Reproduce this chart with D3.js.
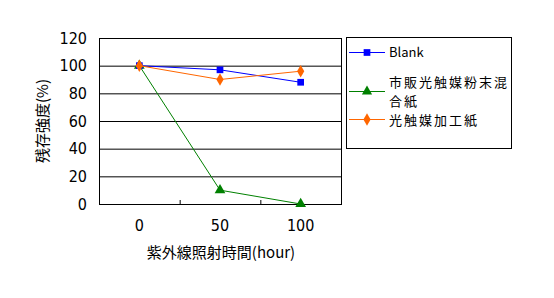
<!DOCTYPE html>
<html>
<head>
<meta charset="utf-8">
<script src="https://cdn.jsdelivr.net/npm/d3@7"></script>
<style>
  body { margin: 0; background: #fff; }
  text { font-family: "Noto Sans CJK JP", "DejaVu Sans", sans-serif; }
  text.num { font-family: "Liberation Sans Narrow", "DejaVu Sans Condensed", sans-serif; }
</style>
</head>
<body>
<div id="chart"></div>
<script>
// data
var hours = ['0', '50', '100'];
var blank = [100, 97, 88];
var commercial = [100, 10, 0];
var processed = [100, 90, 96];
var yTicks = [0, 20, 40, 60, 80, 100, 120];
var seriesNames = ['Blank', '市販光触媒粉末混合紙', '光触媒加工紙'];
var seriesColors = ['#0000ff', '#008000', '#ff6600'];
var seriesShapes = [d3.symbolSquare, d3.symbolTriangle, d3.symbolDiamond];

var width = 554, height = 298;
var plot = { left: 99, top: 38, right: 341, bottom: 204 };

var svg = d3.select('#chart').append('svg')
    .attr('width', width).attr('height', height);

var x = d3.scaleBand()
    .domain(hours)
    .range([plot.left, plot.right])
    .padding(0);

var y = d3.scaleLinear()
    .domain([0, 120])
    .range([plot.bottom, plot.top]);

// grid lines
svg.append('g')
    .selectAll('line')
    .data(yTicks)
    .enter().append('line')
    .attr('x1', plot.left).attr('x2', plot.right)
    .attr('y1', function(d) { return y(d) + 0.5; })
    .attr('y2', function(d) { return y(d) + 0.5; })
    .attr('stroke', '#000').attr('stroke-width', 1);

// plot border
svg.append('rect')
    .attr('x', plot.left + 0.5).attr('y', plot.top + 0.5)
    .attr('width', plot.right - plot.left).attr('height', plot.bottom - plot.top)
    .attr('fill', 'none').attr('stroke', '#000');

// y axis labels
var yAxis = d3.axisLeft(y).tickValues(yTicks).tickSize(0).tickPadding(12);
var gy = svg.append('g')
    .attr('transform', 'translate(' + plot.left + ',0)')
    .call(yAxis);
gy.select('.domain').remove();
gy.selectAll('text').attr('class', 'num').style('font-size', '16px').attr('fill', '#000');

// x axis: ticks between categories, pointing inward
var xAxis = d3.axisBottom(x).tickSize(0).tickPadding(16);
var gx = svg.append('g')
    .attr('transform', 'translate(0,' + plot.bottom + ')')
    .call(xAxis);
gx.select('.domain').remove();
gx.selectAll('text').attr('class', 'num').style('font-size', '16px').attr('fill', '#000');

svg.append('g')
    .selectAll('line')
    .data(hours.slice(1))
    .enter().append('line')
    .attr('x1', function(d) { return x(d) + 0.5; })
    .attr('x2', function(d) { return x(d) + 0.5; })
    .attr('y1', plot.bottom - 4).attr('y2', plot.bottom)
    .attr('stroke', '#000');

// axis titles
svg.append('text')
    .attr('x', 221)
    .attr('y', 258)
    .attr('text-anchor', 'middle')
    .style('font-size', '15px')
    .text('紫外線照射時間(hour)');

svg.append('text')
    .attr('transform', 'translate(48,' + 121 + ') rotate(-90)')
    .attr('text-anchor', 'middle')
    .style('font-size', '15px')
    .text('残存強度(%)');

// series
var allSeries = [blank, commercial, processed];
var line = d3.line()
    .x(function(d, i) { return x(hours[i]) + x.bandwidth() / 2; })
    .y(function(d) { return y(d); });

[1, 0, 2].forEach(function(s) {
    var g = svg.append('g');
    g.append('path')
        .datum(allSeries[s])
        .attr('d', line)
        .attr('fill', 'none')
        .attr('stroke', seriesColors[s])
        .attr('stroke-width', 1);
    g.selectAll('path.pt')
        .data(allSeries[s])
        .enter().append('path')
        .attr('class', 'pt')
        .attr('transform', function(d, i) {
            return 'translate(' + (x(hours[i]) + x.bandwidth() / 2) + ',' + y(d) + ')';
        })
        .attr('d', d3.symbol().type(seriesShapes[s]).size(s === 1 ? 50 : 45))
        .attr('fill', seriesColors[s]);
});

// legend
var legend = svg.append('g');
legend.append('rect')
    .attr('x', 346.5).attr('y', 37.5)
    .attr('width', 165).attr('height', 111)
    .attr('fill', '#fff').attr('stroke', '#000');

var legendRows = [
    { y: 52, ty: 5, ls: 0, lines: ['Blank'] },
    { y: 91, ty: -4, ls: 2, lines: ['市販光触媒粉末混', '合紙'] },
    { y: 119, ty: 6, ls: 2, lines: ['光触媒加工紙'] }
];

legendRows.forEach(function(r, s) {
    var item = legend.append('g').attr('transform', 'translate(0,' + r.y + ')');
    item.append('line')
        .attr('x1', 349).attr('x2', 385)
        .attr('y1', 0.5).attr('y2', 0.5)
        .attr('stroke', seriesColors[s]);
    item.append('path')
        .attr('transform', 'translate(367,0.5)')
        .attr('d', d3.symbol().type(seriesShapes[s]).size(45))
        .attr('fill', seriesColors[s]);
    item.selectAll('text')
        .data(r.lines)
        .enter().append('text')
        .attr('x', 389)
        .attr('y', function(d, i) { return r.ty + i * 19; })
        .style('font-size', '13px')
        .style('letter-spacing', r.ls + 'px')
        .text(function(d) { return d; });
});
</script>
</body>
</html>
